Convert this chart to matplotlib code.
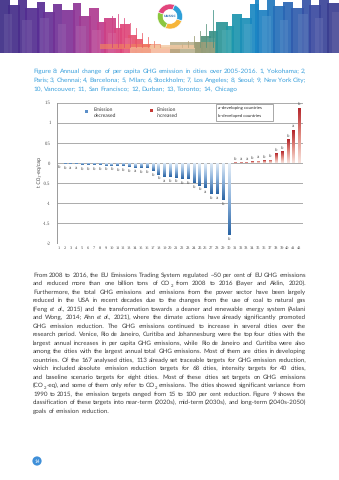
import matplotlib
matplotlib.use("Agg")
import matplotlib.pyplot as plt
import numpy as np
from matplotlib.patches import Rectangle, Wedge, Circle
from matplotlib.colors import LinearSegmentedColormap

W, H = 339, 480
TEXT_FONT = 'Lato'
plt.rcParams['text.hinting'] = 'no_hinting'

# ---------------- chart data ----------------
cities = list(range(1, 43))
change = [-0.01, -0.03, -0.04, -0.04, -0.05, -0.05, -0.06, -0.06, -0.07, -0.07,
          -0.08, -0.09, -0.11, -0.12, -0.13, -0.14, -0.20, -0.29, -0.35, -0.35,
          -0.37, -0.40, -0.40, -0.50, -0.57, -0.62, -0.78, -0.78, -0.92, -1.79,
          0.01, 0.02, 0.02, 0.04, 0.05, 0.07, 0.08, 0.24, 0.29, 0.59, 0.82, 1.37]
group = list("bbaabbbbbbbbbabbbbabbbbbbababb" + "baababbbbbab")
y_ticks = [-2, -1.5, -1, -0.5, 0, 0.5, 1, 1.5]
y_tick_labels = ['-2', '-1.5', '-1', '-0.5', '0', '0.5', '1', '1.5']
legend_labels = ['Emission\ndecreased', 'Emission\nincreased']
group_notes = ['a-developing countries', 'b-developed countries']

caption_lines = [
    "Figure 8: Annual change of per capita GHG emission in cities over 2005-2016. 1, Yokohama; 2,",
    "Paris; 3, Chennai; 4, Barcelona; 5, Milan; 6, Stockholm; 7, Los Angeles; 8, Seoul; 9, New York City;",
    "10, Vancouver; 11, San Francisco; 12, Durban; 13, Toronto; 14, Chicago",
]
body_lines = [
    "From 2008 to 2016, the EU Emissions Trading System regulated ~50 per cent of EU GHG emissions",
    "and reduced more than one billion tons of CO\u2082 from 2008 to 2016 (Bayer and Aklin, 2020).",
    "Furthermore, the total GHG emissions and emissions from the power sector have been largely",
    "reduced in the USA in recent decades due to the changes from the use of coal to natural gas",
    "(Feng *et *al., 2015) and the transformation towards a cleaner and renewable energy system (Aslani",
    "and Wong, 2014; Ahn *et *al., 2021), where the climate actions have already significantly promoted",
    "GHG emission reduction. The GHG emissions continued to increase in several cities over the",
    "research period. Venice, Rio de Janeiro, Curitiba and Johannesburg were the top four cities with the",
    "largest annual increases in per capita GHG emissions, while Rio de Janeiro and Curitiba were also",
    "among the cities with the largest annual total GHG emissions. Most of them are cities in developing",
    "countries. Of the 167 analysed cities, 113 already set traceable targets for GHG emission reduction,",
    "which included absolute emission reduction targets for 68 cities, intensity targets for 40 cities,",
    "and baseline scenario targets for eight cities. Most of these cities set targets on GHG emissions",
    "(CO\u2082-eq), and some of them only refer to CO\u2082 emissions. The cities showed significant variance from",
    "1990 to 2015, the emission targets ranged from 15 to 100 per cent reduction. Figure 9 shows the",
    "classification of these targets into near-term (2020s), mid-term (2030s), and long-term (2040s-2050)",
    "goals of emission reduction.",
]
page_number = "14"

# header skyline: (left, width, top) in page pixels
buildings = [
    (0, 10, 0), (8, 12, 5), (18, 9, 0), (25, 14, 8), (37, 8, 2), (43, 12, 12),
    (53, 9, 4), (62, 13, 10), (73, 8, 3), (79, 12, 16), (89, 10, 8), (97, 9, 22),
    (104, 12, 18), (114, 8, 28), (120, 10, 24), (128, 9, 35), (135, 8, 39),
    (141, 10, 44), (195, 8, 42), (201, 10, 36), (209, 9, 31), (216, 12, 22),
    (226, 8, 26), (232, 10, 14), (240, 12, 18), (250, 9, 4), (255, 4, 0),
    (257, 12, 10), (267, 8, 0), (273, 12, 6), (283, 10, 2), (291, 13, 8),
    (302, 9, 0), (309, 12, 5), (319, 10, 0), (327, 12, 3),
]
facets = [
    (4, 8, 14), (22, 10, 20), (40, 9, 18), (58, 8, 24), (76, 10, 26), (92, 9, 30),
    (108, 8, 33), (124, 8, 38), (206, 9, 38), (222, 9, 30), (244, 8, 24),
    (262, 9, 16), (280, 8, 20), (298, 10, 14), (315, 8, 18), (332, 7, 12),
]
cables = [(112, 16), (118, 14), (124, 18), (130, 23), (136, 28), (142, 33), (148, 37),
          (154, 41), (160, 44), (182, 44), (188, 41), (194, 36), (200, 31), (206, 24),
          (213, 10)]

# ---------------- figure ----------------
fig = plt.figure(figsize=(W / 100, H / 100), dpi=100)
fig.patch.set_facecolor('white')


def px_box(x0, y0, x1, y1):
    return [x0 / W, 1 - y1 / H, (x1 - x0) / W, (y1 - y0) / H]


ax = fig.add_axes(px_box(56.7, 102.5, 302.7, 243.3))
ax.set_facecolor('none')

blue_cmap = LinearSegmentedColormap.from_list('blue_grad', ['#e6eff8', '#8fb4dc', '#2a64a4'])
red_cmap = LinearSegmentedColormap.from_list('red_grad', ['#f8e2dc', '#e08a80', '#b4242a'])

bars = ax.bar(cities, change, width=0.36, color='none', edgecolor='none', zorder=3)
ramp = np.linspace(0, 1, 64).reshape(-1, 1)
for b, v in zip(bars, change):
    x0, w = b.get_x(), b.get_width()
    lo, hi = min(0, v), max(0, v)
    img = ramp[::-1] if v < 0 else ramp
    im = ax.imshow(img, extent=[x0, x0 + w, lo, hi], origin='lower',
                   aspect='auto', cmap=blue_cmap if v < 0 else red_cmap,
                   vmin=0, vmax=1, zorder=3, interpolation='bilinear')
    im.set_clip_path(b)

for i, v, g in zip(cities, change, group):
    if v < 0:
        ax.text(i, v - 0.04, g, ha='center', va='top', fontsize=2.8, color='#555555',
                family='DejaVu Sans')
    else:
        ax.text(i, v + 0.04, g, ha='center', va='bottom', fontsize=2.8, color='#555555',
                family='DejaVu Sans')

ax.set_xlim(0.66, 42.58)
ax.set_ylim(-2, 1.5)
ax.set_yticks(y_ticks)
ax.set_yticklabels(y_tick_labels, fontsize=3.3, family='Liberation Serif', color='#444444')
ax.set_xticks(cities)
ax.set_xticklabels([str(c) for c in cities], fontsize=3.2, family='Liberation Serif',
                   color='#444444')
ax.tick_params(axis='both', length=0)
ax.tick_params(axis='y', pad=4.5)
ax.tick_params(axis='x', pad=2.2)
for t in y_ticks:
    ax.axhline(t, color='#ababab', lw=0.7, zorder=1)
for s in ['top', 'right', 'bottom']:
    ax.spines[s].set_visible(False)
ax.spines['left'].set_color('#9a9a9a')
ax.spines['left'].set_linewidth(0.7)

# ---------------- page overlay (pixel coordinates) ----------------
pg = fig.add_axes([0, 0, 1, 1])
pg.set_xlim(0, W)
pg.set_ylim(H, 0)
pg.axis('off')
pg.patch.set_alpha(0)

# header skyline
sky = LinearSegmentedColormap.from_list('sky', [
    (0.00, '#3a2c84'), (0.12, '#5a2d94'), (0.22, '#8a3598'), (0.30, '#c03c8c'),
    (0.37, '#e0477a'), (0.43, '#ee6160'), (0.48, '#f29a72'), (0.52, '#e8b890'),
    (0.57, '#9a9a70'), (0.62, '#3f8f7f'), (0.68, '#1e9aa8'), (0.76, '#1a86c4'),
    (0.85, '#2a66b4'), (0.93, '#3a4aa0'), (1.00, '#3a3a8c')])
base = 53
for x, w, top in buildings:
    pg.add_patch(Rectangle((x, top), w, base - top, facecolor=sky((x + w / 2) / W),
                           edgecolor='none', alpha=0.92))
for x, w, top in facets:
    pg.add_patch(Rectangle((x, top), w, base - top, facecolor=sky((x + w / 2) / W),
                           edgecolor='none', alpha=0.55))
    pg.add_patch(Rectangle((x, top), w, base - top, facecolor='white',
                           edgecolor='none', alpha=0.12))
for x, top in cables:
    pg.plot([x, x], [top, base - 6], color=sky(x / W), lw=0.6, alpha=0.9)
# bridge deck bands
pg.add_patch(Rectangle((100, 44), 60, 5, facecolor='#f08060', edgecolor='none', alpha=0.7))
pg.add_patch(Rectangle((130, 47), 50, 6, facecolor='#f4b090', edgecolor='none', alpha=0.8))
pg.add_patch(Rectangle((170, 42), 45, 11, facecolor='#a8a078', edgecolor='none', alpha=0.75))
pg.add_patch(Rectangle((150, 45), 45, 4, facecolor='#f3c9a2', edgecolor='none', alpha=0.8))

# logo
cx, cy = 170, 16.5
for t1, t2, col in [(20, 112, '#f6b53a'), (112, 200, '#8cc63f'),
                    (200, 292, '#e2457c'), (292, 380, '#2e9fd8')]:
    pg.add_patch(Wedge((cx, cy), 12.5, t1, t2, width=5.5, facecolor=col, edgecolor='white', lw=0.4))
pg.add_patch(Circle((cx, cy), 7.0, facecolor='white', edgecolor='none'))
pg.text(cx, cy, 'UNSSC', fontsize=2.4, color='#3f7fb8', ha='center', va='center',
        weight='bold', family='DejaVu Sans')

# legend inside the chart
pg.add_patch(Rectangle((85.2, 109.5), 3, 3, facecolor='#5b8fc9', edgecolor='none'))
pg.text(94, 112.6, legend_labels[0], fontsize=3.6, color='#333333', ha='left', va='center',
        linespacing=1.25, family=TEXT_FONT)
pg.add_patch(Rectangle((150.2, 108.5), 3, 3, facecolor='#c63a36', edgecolor='none'))
pg.text(157, 112.6, legend_labels[1], fontsize=3.6, color='#333333', ha='left', va='center',
        linespacing=1.25, family=TEXT_FONT)
pg.add_patch(Rectangle((216, 103.5), 57, 17.5, facecolor='white', edgecolor='#9a9a9a', lw=0.6))
pg.text(218.5, 108.6, group_notes[0], fontsize=3.2, color='#222222', ha='left', va='center',
        family=TEXT_FONT)
pg.text(218.5, 115.8, group_notes[1], fontsize=3.2, color='#222222', ha='left', va='center',
        family=TEXT_FONT)

# y axis title
pg.text(40, 171.5, 't CO\u2082-eq/cap', rotation=90, fontsize=3.4, color='#444444',
        ha='center', va='center', family='DejaVu Sans')

# ---------------- justified text blocks ----------------
renderer = fig.canvas.get_renderer()
SUB = '\u2082'


def segments(word):
    """Split a word into (text, style, is_subscript) pieces."""
    style = 'normal'
    if word.startswith('*'):
        word = word[1:]
        style = 'italic'
    segs = []
    parts = word.split(SUB)
    for k, p in enumerate(parts):
        if p:
            segs.append((p, style, False))
        if k < len(parts) - 1:
            segs.append(('2', style, True))
    return segs


def measure(s, size, style='normal'):
    t = pg.text(0, 0, s, fontsize=size, fontstyle=style, family=TEXT_FONT)
    wd = t.get_window_extent(renderer).width
    t.remove()
    return wd


def seg_width(seg, size):
    s, st, sub = seg
    return measure(s, size * (0.68 if sub else 1.0), st)


def word_width(word, size):
    return sum(seg_width(sg, size) for sg in segments(word))


def space_width(size):
    return measure('x x', size) - measure('xx', size)


def natural_width(line, size):
    words = line.split(' ')
    return sum(word_width(w, size) for w in words) + space_width(size) * (len(words) - 1)


def draw_block(lines, x0, y_first, step, width, color, n_justified, quantile):
    ref = 4.0
    nat = [natural_width(l, ref) for l in lines[:n_justified]]
    size = ref * width / np.quantile(nat, quantile)
    sp = space_width(size)
    for k, line in enumerate(lines):
        words = line.split(' ')
        widths = [word_width(w, size) for w in words]
        if k < n_justified and len(words) > 1:
            gap = (width - sum(widths)) / (len(words) - 1)
            gap = max(gap, 0.45 * sp)
        else:
            gap = sp
        x = x0
        yb = y_first + k * step + 1.9
        for w, wd in zip(words, widths):
            for sg in segments(w):
                s, st, sub = sg
                fs = size * (0.68 if sub else 1.0)
                dy = size * 0.45 if sub else 0.0
                pg.text(x, yb + dy, s, fontsize=fs, fontstyle=st, color=color,
                        ha='left', va='baseline', family=TEXT_FONT)
                x += seg_width(sg, size)
            x += gap


draw_block(caption_lines, 33, 71.3, 9.0, 273, '#3aa0dc', 2, 0.8)
draw_block(body_lines, 33, 275, 8.5, 273, '#3c3c3c', len(body_lines) - 1, 0.75)

# page number
pg.add_patch(Circle((37, 461), 4.6, facecolor='#3f8fd8', edgecolor='none'))
pg.text(37, 461.3, page_number, fontsize=3.4, color='white', ha='center', va='center',
        family=TEXT_FONT)

fig.savefig('out.png', dpi=100, facecolor='white')
